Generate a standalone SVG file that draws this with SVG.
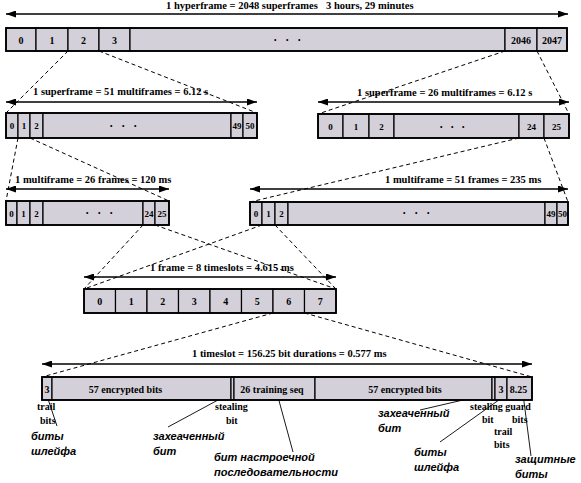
<svg xmlns="http://www.w3.org/2000/svg" width="581" height="483" viewBox="0 0 581 483">
<defs>
<marker id="ah" markerWidth="10" markerHeight="7" refX="10" refY="3.5" orient="auto-start-reverse" markerUnits="userSpaceOnUse">
<path d="M0,0 L10,3.5 L0,7 z" fill="#000"/>
</marker>
<style>
.c{fill:#d3d0d9;stroke:#000;stroke-width:1.2}
.o{fill:none;stroke:#000;stroke-width:1.8}
.t{font-family:"Liberation Serif","Times New Roman",serif;font-weight:bold;font-size:10px;fill:#000}
.n{font-family:"Liberation Serif","Times New Roman",serif;font-weight:bold;font-size:10px;fill:#000;text-anchor:middle}
.s{font-size:9px}
.h{font-family:"Liberation Serif","Times New Roman",serif;font-weight:bold;font-size:10.5px;fill:#000}
.d{font-family:"Liberation Sans",Arial,sans-serif;font-size:7px;fill:#000}
.r{font-family:"Liberation Sans",Arial,sans-serif;font-weight:bold;font-style:italic;font-size:11px;fill:#000}
.dash{stroke:#000;stroke-width:1;stroke-dasharray:4 3;fill:none}
.ptr{stroke:#000;stroke-width:0.9;fill:none}
.arr{stroke:#000;stroke-width:1.6;fill:none;marker-start:url(#ah);marker-end:url(#ah)}
</style>
</defs>
<rect width="581" height="483" fill="#fff"/>

<g id="connectors">
<line class="dash" x1="68" y1="51" x2="6" y2="113"/>
<line class="dash" x1="99" y1="51" x2="257" y2="113"/>
<line class="dash" x1="505" y1="51" x2="318" y2="114"/>
<line class="dash" x1="537" y1="51" x2="569" y2="114"/>
<line class="dash" x1="18" y1="138" x2="6" y2="201"/>
<line class="dash" x1="30" y1="138" x2="169" y2="201"/>
<line class="dash" x1="519" y1="138" x2="250" y2="202"/>
<line class="dash" x1="544" y1="138" x2="568" y2="202"/>
<line class="dash" x1="143" y1="225" x2="84" y2="289"/>
<line class="dash" x1="155" y1="225" x2="336" y2="289"/>
<line class="dash" x1="262" y1="225" x2="84" y2="289"/>
<line class="dash" x1="275" y1="225" x2="336" y2="289"/>
<line class="dash" x1="273" y1="313" x2="42" y2="377"/>
<line class="dash" x1="304.5" y1="313" x2="532" y2="377"/>
<line class="ptr" x1="46" y1="393" x2="57" y2="426"/>
<line class="ptr" x1="231" y1="393" x2="168" y2="427"/>
<line class="ptr" x1="278" y1="397" x2="293" y2="452"/>
<line class="ptr" x1="493" y1="393" x2="420" y2="410"/>
<line class="ptr" x1="503" y1="397" x2="440" y2="442"/>
<line class="ptr" x1="523" y1="394" x2="531" y2="456"/>
</g>

<g id="dimensions">
<line class="arr" x1="6" y1="14" x2="568" y2="14"/>
<line class="arr" x1="6" y1="102" x2="257" y2="102"/>
<line class="arr" x1="318" y1="102" x2="569" y2="102"/>
<line class="arr" x1="6" y1="189" x2="169" y2="189"/>
<line class="arr" x1="250" y1="189" x2="568" y2="189"/>
<line class="arr" x1="84" y1="277" x2="336" y2="277"/>
<line class="arr" x1="42" y1="364" x2="532" y2="364"/>
<text class="h" x="166" y="9">1 hyperframe = 2048 superframes</text>
<text class="h" x="326" y="9">3 hours, 29 minutes</text>
<text class="h" x="33" y="95">1 superframe = 51 multiframes = 6.12 s</text>
<text class="h" x="357" y="96">1 superframe = 26 multiframes = 6.12 s</text>
<text class="h" x="15" y="183">1 multiframe = 26 frames = 120 ms</text>
<text class="h" x="385" y="183">1 multiframe = 51 frames = 235 ms</text>
<text class="h" x="150" y="271">1 frame = 8 timeslots = 4.615 ms</text>
<text class="h" x="192" y="357">1 timeslot = 156.25 bit durations = 0.577 ms</text>
</g>

<g id="hyperframe">
<rect class="c" x="6" y="28" width="30" height="23"/>
<rect class="c" x="36" y="28" width="32" height="23"/>
<rect class="c" x="68" y="28" width="31" height="23"/>
<rect class="c" x="99" y="28" width="31" height="23"/>
<rect class="c" x="130" y="28" width="375" height="23"/>
<rect class="c" x="505" y="28" width="32" height="23"/>
<rect class="c" x="537" y="28" width="30" height="23"/>
<rect class="o" x="6" y="28" width="561" height="23"/>
<text class="n" x="21" y="43.5">0</text>
<text class="n" x="52" y="43.5">1</text>
<text class="n" x="83.5" y="43.5">2</text>
<text class="n" x="114.5" y="43.5">3</text>
<text class="d" x="274 286 298" y="42">•••</text>
<text class="n" x="521" y="43.5">2046</text>
<text class="n" x="552" y="43.5">2047</text>
</g>

<g id="superframe-51">
<rect class="c" x="6" y="113" width="12" height="25"/>
<rect class="c" x="18" y="113" width="12" height="25"/>
<rect class="c" x="30" y="113" width="13" height="25"/>
<rect class="c" x="43" y="113" width="188" height="25"/>
<rect class="c" x="231" y="113" width="12" height="25"/>
<rect class="c" x="243" y="113" width="14" height="25"/>
<rect class="o" x="6" y="113" width="251" height="25"/>
<text class="n s" x="12" y="129">0</text>
<text class="n s" x="24" y="129">1</text>
<text class="n s" x="36.5" y="129">2</text>
<text class="d" x="110 122 134" y="128">•••</text>
<text class="n s" x="237" y="129">49</text>
<text class="n s" x="250" y="129">50</text>
</g>

<g id="superframe-26">
<rect class="c" x="318" y="114" width="25" height="24"/>
<rect class="c" x="343" y="114" width="26" height="24"/>
<rect class="c" x="369" y="114" width="25" height="24"/>
<rect class="c" x="394" y="114" width="125" height="24"/>
<rect class="c" x="519" y="114" width="25" height="24"/>
<rect class="c" x="544" y="114" width="25" height="24"/>
<rect class="o" x="318" y="114" width="251" height="24"/>
<text class="n s" x="330.5" y="129.5">0</text>
<text class="n s" x="356" y="129.5">1</text>
<text class="n s" x="381.5" y="129.5">2</text>
<text class="d" x="440 451 462" y="128.5">•••</text>
<text class="n s" x="531.5" y="129.5">24</text>
<text class="n s" x="556.5" y="129.5">25</text>
</g>

<g id="multiframe-26">
<rect class="c" x="6" y="201" width="11" height="24"/>
<rect class="c" x="17" y="201" width="13" height="24"/>
<rect class="c" x="30" y="201" width="13" height="24"/>
<rect class="c" x="43" y="201" width="100" height="24"/>
<rect class="c" x="143" y="201" width="12" height="24"/>
<rect class="c" x="155" y="201" width="14" height="24"/>
<rect class="o" x="6" y="201" width="163" height="24"/>
<text class="n s" x="11.5" y="216.5">0</text>
<text class="n s" x="23.5" y="216.5">1</text>
<text class="n s" x="36.5" y="216.5">2</text>
<text class="d" x="86 98 110" y="215">•••</text>
<text class="n s" x="149" y="216.5">24</text>
<text class="n s" x="162" y="216.5">25</text>
</g>

<g id="multiframe-51">
<rect class="c" x="250" y="202" width="12" height="23"/>
<rect class="c" x="262" y="202" width="13" height="23"/>
<rect class="c" x="275" y="202" width="13" height="23"/>
<rect class="c" x="288" y="202" width="257" height="23"/>
<rect class="c" x="545" y="202" width="12" height="23"/>
<rect class="c" x="557" y="202" width="11" height="23"/>
<rect class="o" x="250" y="202" width="318" height="23"/>
<text class="n s" x="256" y="216.5">0</text>
<text class="n s" x="268.5" y="216.5">1</text>
<text class="n s" x="281.5" y="216.5">2</text>
<text class="d" x="403 415 427" y="215">•••</text>
<text class="n s" x="551" y="216.5">49</text>
<text class="n s" x="562.5" y="216.5">50</text>
</g>

<g id="frame">
<rect class="c" x="84" y="289" width="31.5" height="24"/>
<rect class="c" x="115.5" y="289" width="31.5" height="24"/>
<rect class="c" x="147" y="289" width="31.5" height="24"/>
<rect class="c" x="178.5" y="289" width="31.5" height="24"/>
<rect class="c" x="210" y="289" width="31.5" height="24"/>
<rect class="c" x="241.5" y="289" width="31.5" height="24"/>
<rect class="c" x="273" y="289" width="31.5" height="24"/>
<rect class="c" x="304.5" y="289" width="31.5" height="24"/>
<rect class="o" x="84" y="289" width="252" height="24"/>
<text class="n" x="99.75" y="305" font-size="11">0</text>
<text class="n" x="131.25" y="305" font-size="11">1</text>
<text class="n" x="162.75" y="305" font-size="11">2</text>
<text class="n" x="194.25" y="305" font-size="11">3</text>
<text class="n" x="225.75" y="305" font-size="11">4</text>
<text class="n" x="257.25" y="305" font-size="11">5</text>
<text class="n" x="288.75" y="305" font-size="11">6</text>
<text class="n" x="320.25" y="305" font-size="11">7</text>
</g>

<g id="timeslot">
<rect class="c" x="42" y="377" width="10" height="23"/>
<rect class="c" x="52" y="377" width="179" height="23"/>
<rect class="c" x="231" y="377" width="3" height="23"/>
<rect class="c" x="234" y="377" width="81" height="23"/>
<rect class="c" x="315" y="377" width="177" height="23"/>
<rect class="c" x="492" y="377" width="3" height="23"/>
<rect class="c" x="495" y="377" width="12" height="23"/>
<rect class="c" x="507" y="377" width="25" height="23"/>
<rect class="o" x="42" y="377" width="490" height="23"/>
<text class="n" x="47" y="392.5">3</text>
<text class="n" x="125.5" y="392.5">57 encrypted bits</text>
<text class="n" x="272" y="392.5">26 training seq</text>
<text class="n" x="405" y="392.5">57 encrypted bits</text>
<text class="n" x="501" y="392.5">3</text>
<text class="n" x="518.5" y="392.5">8.25</text>
</g>

<g id="labels">
<text class="t" x="37" y="410">trail</text>
<text class="t" x="40" y="424">bits</text>
<text class="t" x="215" y="410">stealing</text>
<text class="t" x="226" y="424">bit</text>
<text class="t" x="470" y="410">stealing guard</text>
<text class="t" x="482" y="423">bit</text>
<text class="t" x="512" y="423">bits</text>
<text class="t" x="494" y="435">trail</text>
<text class="t" x="494" y="448">bits</text>
<text class="r" x="31" y="440">биты</text>
<text class="r" x="31" y="455">шлейфа</text>
<text class="r" x="153" y="440">захеаченный</text>
<text class="r" x="153" y="455">бит</text>
<text class="r" x="214" y="461">бит настроечной</text>
<text class="r" x="214" y="476">последовательности</text>
<text class="r" x="378" y="417">захеаченный</text>
<text class="r" x="378" y="432">бит</text>
<text class="r" x="414" y="456">биты</text>
<text class="r" x="414" y="471">шлейфа</text>
<text class="r" x="515" y="463">защитные</text>
<text class="r" x="515" y="478">биты</text>
</g>
</svg>
